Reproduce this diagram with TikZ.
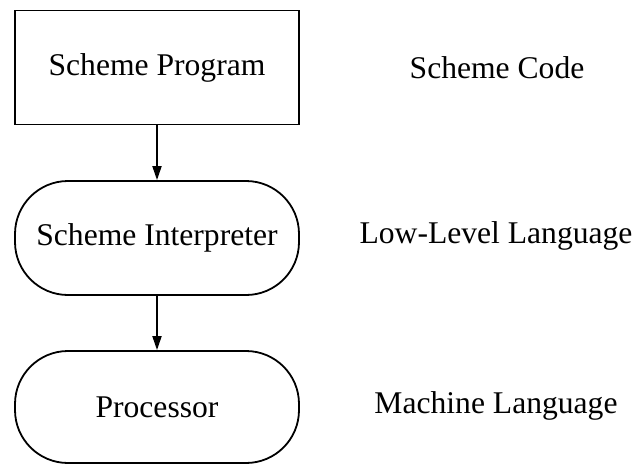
\documentclass[tikz,border=0pt]{standalone}
\usepackage{fontspec}
\setmainfont{Liberation Serif}
\usetikzlibrary{arrows.meta}
\begin{document}
\begin{tikzpicture}[x=1pt,y=-1pt,
  every node/.style={font=\fontsize{31.6}{38}\selectfont, inner sep=0pt},
  boxnode/.style={draw, line width=1.8pt, minimum width=284pt, minimum height=114pt},
  pill/.style={boxnode, rounded corners=53pt},
  flow/.style={line width=1.8pt, -{Triangle[length=14pt,width=9pt]}},
  lbl/.style={}]
\useasboundingbox (0,0) rectangle (636,464);
\node[boxnode] (prog) at (157,67.5) {Scheme Program};
\node[pill] (interp) at (157,238) {Scheme Interpreter};
\node[pill, minimum height=112pt] (proc) at (157,407) {Processor};
\draw[flow] (prog) -- (interp);
\draw[flow] (interp) -- (proc);
\node[lbl] (code) at (497,68) {Scheme Code};
\node[lbl] (low) at (496,236) {Low-Level Language};
\node[lbl] (mach) at (496,406) {Machine Language};
\end{tikzpicture}
\end{document}
